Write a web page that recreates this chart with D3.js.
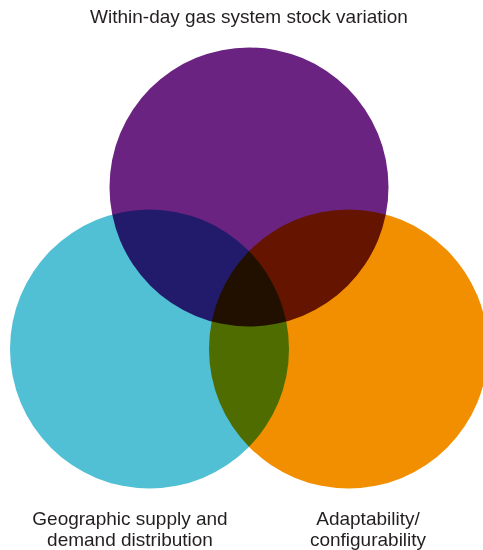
<!DOCTYPE html>
<html>
<head>
<meta charset="utf-8">
<script src="https://cdn.jsdelivr.net/npm/d3@7"></script>
<style>
  body { margin: 0; background: #fff; }
  svg { display: block; }
</style>
</head>
<body>
<svg id="chart"></svg>
<script>
// sets of the venn diagram
const setNames = ['Within-day gas system stock variation', 'Geographic supply and demand distribution', 'Adaptability/configurability'];
const setColors = ['#6a2381', '#52c0d4', '#f28f00'];
// circle centres in chart units, radius shared
const setX = [0, -1, 1];
const setY = [-1.16, 0, 0];
const labelLines = [
  ['Within-day gas system stock variation'],
  ['Geographic supply and', 'demand distribution'],
  ['Adaptability/', 'configurability']
];

const width = 483, height = 550;
const svg = d3.select('#chart').attr('width', width).attr('height', height);

const x = d3.scaleLinear().domain([-1, 1]).range([149.5, 348.5]);
const y = d3.scaleLinear().domain([-1.16, 0]).range([187, 349]);
const r = 139.5;

const g = svg.append('g').style('isolation', 'isolate');

g.selectAll('circle')
  .data(setNames)
  .join('circle')
  .attr('cx', (d, i) => x(setX[i]))
  .attr('cy', (d, i) => y(setY[i]))
  .attr('r', r)
  .attr('fill', (d, i) => setColors[i])
  .style('mix-blend-mode', 'multiply');

const labelPos = [
  { x: 249, y: 23 },
  { x: 130, y: 525 },
  { x: 368, y: 525 }
];

// one text per line so lines stay apart
labelLines.forEach((lines, i) => {
  svg.append('g')
    .selectAll('text')
    .data(lines)
    .join('text')
    .attr('x', labelPos[i].x)
    .attr('y', (d, j) => labelPos[i].y + j * 21)
    .attr('text-anchor', 'middle')
    .attr('font-family', 'Liberation Sans, Arial, sans-serif')
    .attr('font-size', 19)
    .attr('fill', '#231f20')
    .text(d => d);
});
</script>
</body>
</html>
